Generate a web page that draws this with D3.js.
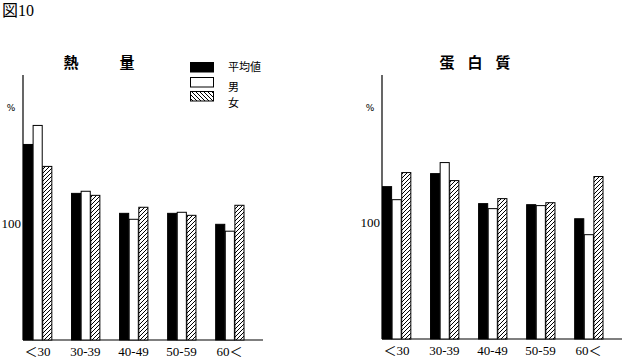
<!DOCTYPE html>
<html><head><meta charset="utf-8">
<script src="https://cdn.jsdelivr.net/npm/d3@7"></script>
<style>body{margin:0;background:#fff}svg{display:block}</style>
</head><body>
<svg id="c" width="625" height="360"></svg>
<script>
const categories = ["＜30", "30-39", "40-49", "50-59", "60＜"];
const seriesNames = ["平均値", "男", "女"];
const energyAvg = [167.5, 125.6, 108.5, 108.5, 99.1];
const energyMale = [183.8, 127.4, 103.4, 109.4, 93.2];
const energyFemale = [148.7, 123.9, 113.7, 106.8, 115.4];
const proteinAvg = [131.0, 142.2, 116.4, 115.5, 103.4];
const proteinMale = [119.8, 151.7, 112.1, 114.7, 89.7];
const proteinFemale = [143.1, 136.2, 120.7, 117.2, 139.7];
const yTicks = [100];

const svg = d3.select("#c");
const defs = svg.append("defs");
const p1 = defs.append("pattern").attr("id","hatch").attr("patternUnits","userSpaceOnUse")
  .attr("width",4).attr("height",4);
p1.append("rect").attr("width",4).attr("height",4).attr("fill","#fff");
p1.append("path").attr("d","M-1,1 l2,-2 M0,4 l4,-4 M3,5 l2,-2").attr("stroke","#000").attr("stroke-width",1);
const p2 = defs.append("pattern").attr("id","hatch2").attr("patternUnits","userSpaceOnUse")
  .attr("width",4).attr("height",4);
p2.append("rect").attr("width",4).attr("height",4).attr("fill","#fff");
p2.append("path").attr("d","M-1,3 l2,2 M0,0 l4,4 M3,-1 l2,2").attr("stroke","#000").attr("stroke-width",1);

const fills = ["#000", "#fff", "url(#hatch)"];

svg.append("text").attr("x",2).attr("y",16).attr("font-size",16).attr("fill","#000")
  .attr("font-family","'Liberation Serif','Noto Sans CJK JP'").text("図10");

function panel(x0, base, data, titleChars, titleXs) {
  const x = d3.scaleBand().domain(categories).range([x0, x0 + 221]).paddingInner(0.4).paddingOuter(0);
  const xs = d3.scaleBand().domain(d3.range(3)).range([0, x.bandwidth()]);
  const y = d3.scaleLinear().domain([0, 227]).range([base, 75]);
  const g = svg.append("g");
  g.append("line").attr("x1",x0).attr("x2",x0).attr("y1",y(227)).attr("y2",base).attr("stroke","#000").attr("stroke-width",1.2);
  g.append("line").attr("x1",x0).attr("x2",x0+240).attr("y1",base).attr("y2",base).attr("stroke","#000").attr("stroke-width",1.2);
  const ya = g.append("g").attr("transform",`translate(${x0},0)`)
    .call(d3.axisLeft(y).tickValues(yTicks).tickSize(0).tickPadding(2));
  ya.select(".domain").remove();
  ya.selectAll("text").attr("font-size",13).attr("fill","#000").attr("font-family","'Liberation Serif'");
  const xa = g.append("g").attr("transform",`translate(0,${base})`)
    .call(d3.axisBottom(x).tickSize(0).tickPadding(7));
  xa.select(".domain").remove();
  xa.selectAll("text").attr("font-size",13).attr("fill","#000").attr("font-family","'Liberation Serif','Noto Sans CJK JP'");
  g.append("text").attr("x",x0-12).attr("y",y(227)+36).attr("font-size",9).attr("text-anchor","middle")
    .attr("fill","#000").attr("font-family","'DejaVu Sans'").text("%");
  data.forEach((vals, si) => {
    g.selectAll(null).data(vals).enter().append("rect")
      .attr("x",(d,i)=>x(categories[i]) + xs(si) + 0.5)
      .attr("width", xs.bandwidth() - 0.5)
      .attr("y", d => y(d))
      .attr("height", d => base - y(d))
      .attr("fill", fills[si]).attr("stroke","#000").attr("stroke-width",1);
  });
  titleChars.forEach((c,i)=>{
    g.append("text").attr("x",titleXs[i]).attr("y",68).attr("text-anchor","middle").attr("fill","#000")
      .attr("font-size",15).attr("font-weight","bold").attr("font-family","'Noto Sans CJK JP'").text(c);
  });
}

panel(23, 340, [energyAvg, energyMale, energyFemale], ["熱","量"], [71,127]);
panel(382, 339, [proteinAvg, proteinMale, proteinFemale], ["蛋","白","質"], [447,475,503]);

const legFills = ["#000", "#fff", "url(#hatch2)"];
const boxY = [62, 77, 91];
const labY = [67, 87, 103];
seriesNames.forEach((n,i)=>{
  svg.append("rect").attr("x",190.5).attr("y",boxY[i]+0.5).attr("width",23).attr("height",9.5)
    .attr("fill",legFills[i]).attr("stroke","#000").attr("stroke-width",1);
  svg.append("text").attr("x",228).attr("y",labY[i]).attr("dy","0.35em").attr("font-size",11).attr("fill","#000")
    .attr("font-family","'Noto Sans CJK JP'").text(n);
});
</script>
</body></html>
